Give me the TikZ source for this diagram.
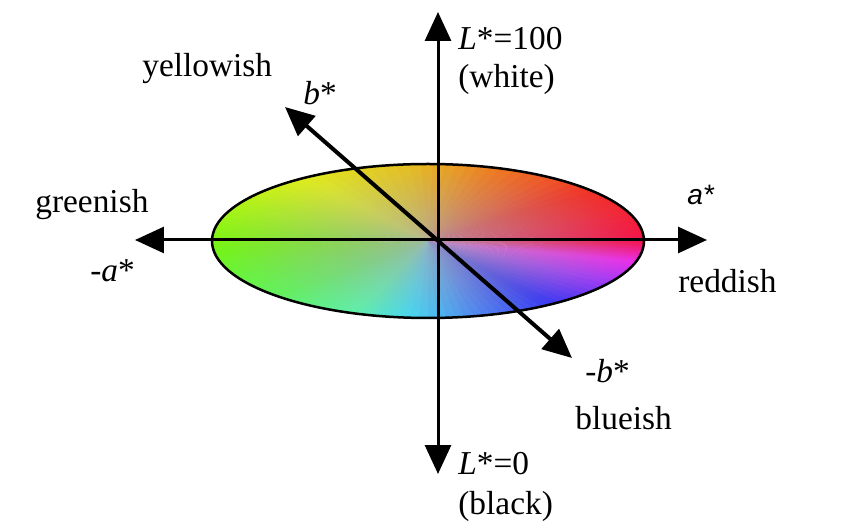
\documentclass[tikz,border=0pt]{standalone}
\usepackage{fontspec}
\setmainfont{Liberation Serif}
\setsansfont{Liberation Sans}
\usetikzlibrary{arrows.meta,fadings}
\definecolor{hueA}{RGB}{255,0,60}
\definecolor{hueB}{RGB}{255,30,15}
\definecolor{hueC}{RGB}{255,110,0}
\definecolor{hueD}{RGB}{245,195,0}
\definecolor{hueE}{RGB}{235,250,0}
\definecolor{hueF}{RGB}{170,255,0}
\definecolor{hueG}{RGB}{110,255,0}
\definecolor{hueH}{RGB}{85,255,80}
\definecolor{hueI}{RGB}{80,255,170}
\definecolor{hueJ}{RGB}{50,225,255}
\definecolor{hueK}{RGB}{60,120,255}
\definecolor{hueL}{RGB}{35,35,255}
\definecolor{hueM}{RGB}{170,40,255}
\definecolor{hueN}{RGB}{245,30,240}
\definecolor{centregrey}{RGB}{168,168,178}
\tikzfading[name=greyfade, inner color=transparent!20, outer color=transparent!100]

\begin{document}
\begin{tikzpicture}[x=0.02cm, y=-0.02cm,
    every node/.style={font=\fontsize{19}{23}\selectfont, inner sep=0pt},
    lbl/.style={anchor=base west},
    axis/.style={line width=0.06cm,
      {Triangle[length=0.58cm,width=0.52cm]}-{Triangle[length=0.58cm,width=0.52cm]}}]
  \useasboundingbox (0,0) rectangle (850,526);
  % colour disc
  \begin{scope}[shift={(428,241)}, yscale=-1]
    \clip (0,0) ellipse [x radius=216, y radius=77];
    \foreach \ta/\tb/\ca/\cb in {0/40/hueA/hueB, 40/70/hueB/hueC, 70/95/hueC/hueD,
        95/125/hueD/hueE, 125/155/hueE/hueF, 155/185/hueF/hueG, 185/225/hueG/hueH,
        225/250/hueH/hueI, 250/265/hueI/hueJ, 265/285/hueJ/hueK, 285/305/hueK/hueL,
        305/330/hueL/hueM, 330/345/hueM/hueN, 345/360/hueN/hueA} {
      \foreach \k in {0,...,7} {
        \pgfmathsetmacro{\a}{\ta+(\tb-\ta)*\k/8}
        \pgfmathsetmacro{\b}{\ta+(\tb-\ta)*(\k+1)/8+0.6}
        \pgfmathtruncatemacro{\p}{100*(\k+0.5)/8}
        \colorlet{wedge}{\cb!\p!\ca}
        \fill[wedge] (0,0) -- ({260*cos(\a)},{95*sin(\a)})
                           -- ({260*cos(\b)},{95*sin(\b)}) -- cycle;
      }
    }
    \fill[centregrey, path fading=greyfade] (0,0) ellipse [x radius=250, y radius=100];
  \end{scope}
  \draw[line width=0.05cm] (428,241) ellipse [x radius=216, y radius=77];
  % axes
  \coordinate (O) at (438,240);
  \coordinate (Ltop) at (438,12);
  \coordinate (Lbot) at (438,474);
  \coordinate (aneg) at (135,240);
  \coordinate (apos) at (707,240);
  \coordinate (bpos) at (285,107);
  \coordinate (bneg) at (572,358);
  \draw[axis] (Lbot) -- (Ltop);
  \draw[axis] (aneg) -- (apos);
  \draw[axis, line width=0.08cm] (bneg) -- (bpos);
  % labels
  \node[lbl] (Lwhite) at (458,50) {\textit{L}*=100};
  \node[lbl] (white) at (458,88) {(white)};
  \node[lbl] (Lblack) at (458,475) {\textit{L}*=0};
  \node[lbl] (black) at (458,515) {(black)};
  \node[lbl] (yellowish) at (142,77) {yellowish};
  \node[lbl] (bstar) at (303,105) {\textit{b}*};
  \node[lbl] (greenish) at (35,213) {greenish};
  \node[lbl] (minusa) at (90,282) {\textit{-a}*};
  \node[lbl, font=\sffamily\itshape\fontsize{16}{19}\selectfont] (astar) at (687,205) {a*};
  \node[lbl] (reddish) at (678,293) {reddish};
  \node[lbl] (minusb) at (585,383) {\textit{-b}*};
  \node[lbl] (blueish) at (575,430) {blueish};
\end{tikzpicture}
\end{document}
